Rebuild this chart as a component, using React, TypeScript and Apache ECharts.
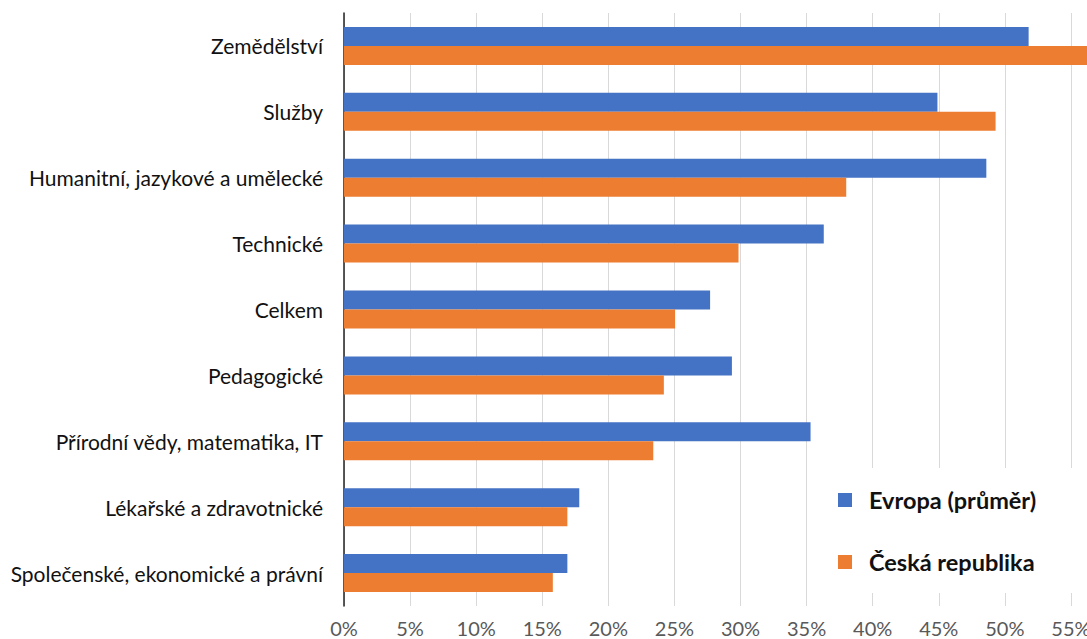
import React, { useEffect, useRef } from "react";
import * as echarts from "echarts";

const categories = [
  "Zemědělství",
  "Služby",
  "Humanitní, jazykové a umělecké",
  "Technické",
  "Celkem",
  "Pedagogické",
  "Přírodní vědy, matematika, IT",
  "Lékařské a zdravotnické",
  "Společenské, ekonomické a právní",
];
const europe = [51.8, 44.9, 48.6, 36.3, 27.7, 29.35, 35.3, 17.8, 16.9];
const czech = [57.0, 49.3, 38.0, 29.85, 25.05, 24.2, 23.4, 16.9, 15.8];
const seriesNames = ["Evropa (průměr)", "Česká republika"];

export default function App() {
  const ref = useRef<HTMLDivElement>(null);
  useEffect(() => {
    document.body.style.margin = "0";
    const chart = echarts.init(ref.current!, null, { renderer: "svg" });
    const font = "Lato, 'Open Sans', sans-serif";
    chart.setOption({
      animation: false,
      textStyle: { fontFamily: font },
      grid: { left: 344, right: 13, top: 13, bottom: 33, containLabel: false },
      xAxis: {
        type: "value",
        min: 0,
        max: 60,
        interval: 5,
        axisLine: { show: false },
        axisTick: { show: false },
        splitLine: { lineStyle: { color: "#D9D9D9", width: 1 } },
        axisLabel: {
          formatter: "{value}%",
          color: "#595959",
          fontSize: 20,
          fontFamily: font,
          margin: 12,
          showMaxLabel: false,
        },
      },
      yAxis: {
        type: "category",
        data: categories,
        inverse: true,
        axisLine: { lineStyle: { color: "#222222", width: 1.5 } },
        axisTick: { show: false },
        axisLabel: { color: "#111111", fontSize: 21, fontFamily: font, margin: 21 },
      },
      legend: {
        orient: "vertical",
        left: 820,
        top: 468,
        padding: [20, 60, 19, 18],
        backgroundColor: "#ffffff",
        icon: "rect",
        itemWidth: 14,
        itemHeight: 14,
        itemGap: 38,
        textStyle: {
          fontSize: 23.5,
          fontWeight: "bold",
          color: "#111111",
          fontFamily: font,
          lineHeight: 24,
          padding: [0, 0, 0, 12],
        },
        data: seriesNames,
      },
      series: [
        {
          name: seriesNames[0],
          type: "bar",
          data: europe,
          barWidth: 19,
          barGap: "0%",
          itemStyle: { color: "#4472C4" },
        },
        {
          name: seriesNames[1],
          type: "bar",
          data: czech,
          barWidth: 19,
          barGap: "0%",
          itemStyle: { color: "#ED7D31" },
        },
      ],
    });
    return () => chart.dispose();
  }, []);
  return (
    <div style={{ width: 1087, height: 639, overflow: "hidden" }}>
      <div ref={ref} style={{ width: 1150, height: 639 }} />
    </div>
  );
}
